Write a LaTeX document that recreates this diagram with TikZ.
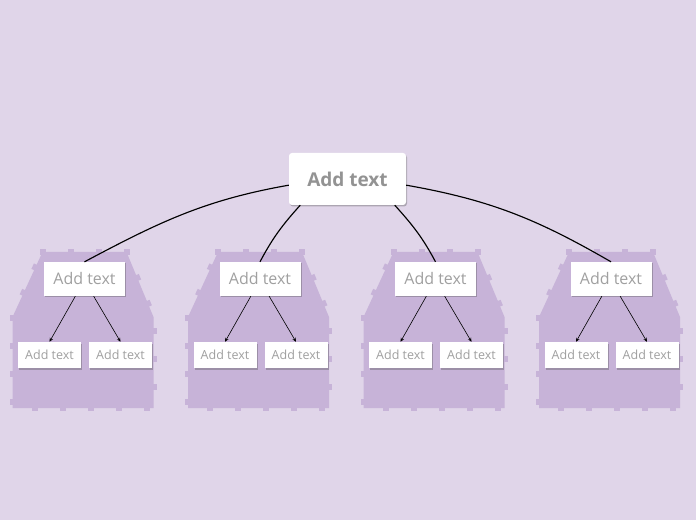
\documentclass[tikz,border=0pt]{standalone}
\usepackage{fontspec}
\setmainfont{Open Sans}
\usetikzlibrary{shadows,decorations.markings,arrows.meta}
\definecolor{bg}{HTML}{E0D5E9}
\definecolor{grp}{HTML}{C7B3D8}
\definecolor{txt}{HTML}{A0A0A0}
\tikzset{
 box/.style={fill=white, draw=none, inner sep=0pt, text=txt,
   drop shadow={shadow xshift=1pt,shadow yshift=-1.5pt,opacity=0.35,fill=black!70}},
 rootbox/.style={box, minimum width=117pt, minimum height=52pt, rounded corners=3pt,
   font=\fontsize{19}{22}\selectfont\bfseries, text=txt!92!black},
 parentbox/.style={box, minimum width=81pt, minimum height=34pt, font=\fontsize{16}{19}\selectfont},
 childbox/.style={box, minimum width=63pt, minimum height=26pt, font=\fontsize{12.5}{15}\selectfont},
 link/.style={line width=1.15pt, black},
 arr/.style={line width=0.6pt, black, -{Stealth[length=4pt,width=3.5pt]}},
 notched/.style={fill=grp, postaction={decorate},
   decoration={markings, mark=between positions 0 and 1 step 28pt with
     {\fill[grp] (-3pt,-3pt) rectangle (3pt,3pt);}}}
}
\begin{document}
\begin{tikzpicture}[x=1pt,y=1pt]
\fill[bg] (0,0) rectangle (696,520);
\useasboundingbox (0,0) rectangle (696,520);
\foreach \i/\cx in {1/84.5,2/260,3/435.5,4/611}{
  \path[notched] (\cx-42,268) -- (\cx+42,268) -- (\cx+69,203) -- (\cx+69,112)
     -- (\cx-72,112) -- (\cx-72,203) -- cycle;
  \node[parentbox] (p\i) at (\cx,241) {Add text};
  \node[childbox] (ca\i) at (\cx-35,165) {Add text};
  \node[childbox] (cb\i) at (\cx+36,165) {Add text};
  \draw[arr] (p\i.242) -- (ca\i.north);
  \draw[arr] (p\i.298) -- (cb\i.north);
}
\node[rootbox] (root) at (347.5,341) {Add text};
\draw[link] (root.186) to[out=190,in=28] (p1.north);
\draw[link] (root.209) to[out=228,in=62] (p2.north);
\draw[link] (root.331) to[out=312,in=118] (p3.north);
\draw[link] (root.354) to[out=-10,in=150] (p4.north);
\end{tikzpicture}
\end{document}
